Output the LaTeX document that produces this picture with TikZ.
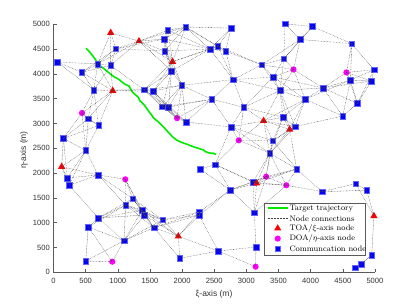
\documentclass[tikz,border=0pt]{standalone}
\usepackage{fontspec}
\usepackage{amsmath}
\usetikzlibrary{shapes.geometric}
\newfontfamily\axisfont{Liberation Sans}
\definecolor{comBlue}{RGB}{0,0,255}
\definecolor{toaRed}{RGB}{255,0,0}
\definecolor{doaMagenta}{RGB}{255,0,255}
\definecolor{trajGreen}{RGB}{0,235,0}
\definecolor{axisGray}{RGB}{90,90,90}
\def\sensorlist{%
toa/890/4830, toa/1330/4660, com/970/4505, com/55/4240, com/687/4200,
com/889/4170, com/440/4032, com/628/3675, toa/922/3660, com/1412/3678,
com/1550/3652, doa/443/3212, com/540/3100, com/700/2960, com/153/2698,
com/503/2460, com/1778/4880, com/1723/4704, com/1729/4462, com/2056/4945,
toa/1851/4246, com/1835/4058, com/1997/3770, com/1692/3336, com/1788/3333,
doa/1921/3108, com/2061/3030, com/2460/3488, com/2434/4500, com/2556/4560,
com/2678/4458, com/2760/4922, com/3600/5008, com/4028/4956, com/3838/4694,
com/4640/4609, com/3237/4183, com/3583/4303, doa/3733/4089, doa/4557/4029,
com/4985/4085, com/2794/3884, com/3418/3938, com/4619/3874, com/4946/3857,
com/3523/3666, com/4191/3716, com/3916/3488, com/4728/3404, com/4498/3151,
com/2960/3326, toa/3268/3054, com/3569/3125, toa/3673/2880, com/3758/2937,
com/2760/2930, doa/2882/2660, com/3409/2650, com/3365/2402,
toa/127/2129, com/215/1901, com/241/1754, com/692/1962, doa/1117/1875,
com/1232/1485, com/1123/1357, com/1381/1250, com/1412/1155, com/1698/1058,
com/1563/900, com/697/1095, com/541/913, com/1096/637, toa/1941/726,
com/1963/282, com/501/228, doa/914/214,
com/3782/2083, com/2515/2172, com/2278/2080, doa/3308/1928, doa/3621/1754,
com/3103/1818, toa/3160/1794, com/2750/1659, com/4180/1626, com/4700/1787,
com/4871/1653, com/3123/1200, toa/4984/1135, com/2265/1215, com/2265/1150,
com/2563/429, com/3149/510, doa/3144/113, com/4694/93, com/4782/161,
com/4949/343}

\begin{document}
\begin{tikzpicture}[
    com/.style={rectangle, draw=comBlue!60!white, fill=comBlue, minimum size=5.6bp,
                inner sep=0pt, line width=0.4bp},
    toa/.style={regular polygon, regular polygon sides=3, fill=toaRed,
                minimum size=8.4bp, inner sep=0pt},
    doa/.style={circle, fill=doaMagenta, minimum size=6.2bp, inner sep=0pt},
    link/.style={draw=black!75, line width=0.35bp, dash pattern=on 0.6bp off 0.9bp},
    traj/.style={draw=trajGreen, line width=1.6bp},
    axisline/.style={draw=axisGray, line width=0.5bp},
    tick/.style={font=\axisfont\fontsize{7.6}{8}\selectfont, text=black!80, inner sep=0pt},
    axlabel/.style={font=\axisfont\fontsize{8.5}{9}\selectfont, text=black!80, inner sep=0pt},
    legtext/.style={font=\fontsize{8}{9}\selectfont, anchor=west, inner sep=0pt}
  ]
  \useasboundingbox (0,0) rectangle (415bp,306bp);

  \begin{scope}[shift={(53.5bp,33.7bp)}, x=0.0643bp, y=0.0496bp]
    \draw[axisline] (0,5000) -- (0,0) -- (5000,0);
    \foreach \v in {0,500,...,5000} {
      \draw[axisline] (\v,0) -- ++(0,60);
      \draw[axisline] (0,\v) -- ++(47,0);
      \node[tick, anchor=north] (xt\v) at ([yshift=-6bp]\v,0) {\v};
      \node[tick, anchor=east] (yt\v) at ([xshift=-3.5bp]0,\v) {\v};
    }

    \draw[traj] plot coordinates {(505,4516) (557,4448) (609,4367) (656,4280)
      (697,4200) (723,4166) (775,4113) (853,4032) (905,3978) (956,3931)
      (1008,3897) (1060,3843) (1112,3790) (1174,3756) (1205,3682) (1231,3629)
      (1267,3589) (1319,3528) (1345,3454) (1371,3427) (1412,3373) (1449,3306)
      (1485,3238) (1527,3171) (1552,3117) (1594,3071) (1630,3036) (1667,2984)
      (1708,2935) (1760,2860) (1810,2790) (1860,2720) (1916,2667) (1990,2620)
      (2080,2580) (2174,2532) (2250,2500) (2330,2466) (2370,2430) (2408,2411)
      (2450,2400) (2485,2399) (2530,2375)};

    \foreach \kind/\x/\y [count=\i] in \sensorlist {
      \node[\kind] (n\i) at (\x,\y) {};
    }

    \foreach \ka/\xa/\ya [count=\i] in \sensorlist {
      \foreach \kb/\xb/\yb [count=\j] in \sensorlist {
        \ifnum\j>\i
          \pgfmathsetmacro\dist{veclen((\xa-\xb)/1000,(\ya-\yb)/1000)}
          \ifdim\dist pt<0.81pt \draw[link] (n\i.center) -- (n\j.center); \fi
        \fi
      }
    }
  \end{scope}

  \node[axlabel] (xlab) at (214bp,12bp) {ξ-axis (m)};
  \node[axlabel, rotate=90] (ylab) at (24bp,156bp) {η-axis (m)};

  \node[draw=axisGray, fill=white, line width=0.5bp, minimum width=101bp,
        minimum height=52bp, inner sep=0pt] (legbox) at (314.5bp,77bp) {};
  \draw[traj] (267.7bp,97.7bp) -- (287.7bp,97.7bp);
  \draw[link] (267.7bp,87.4bp) -- (287.7bp,87.4bp);
  \node[toa] (legtoa) at (277.7bp,77.6bp) {};
  \node[doa] (legdoa) at (277.7bp,67.4bp) {};
  \node[com] (legcom) at (277.7bp,57.3bp) {};
  \node[legtext] (lt1) at (289.3bp,97.7bp) {Target trajectory};
  \node[legtext] (lt2) at (289.3bp,87.4bp) {Node connections};
  \node[legtext] (lt3) at (289.3bp,77.2bp) {TOA/$\xi$-axis node};
  \node[legtext] (lt4) at (289.3bp,67.2bp) {DOA/$\eta$-axis node};
  \node[legtext] (lt5) at (289.3bp,57.1bp) {Communcation node};
\end{tikzpicture}
\end{document}
